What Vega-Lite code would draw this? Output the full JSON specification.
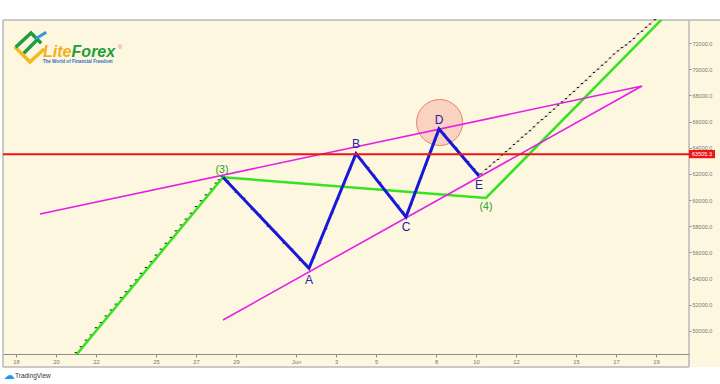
{
  "$schema": "https://vega.github.io/schema/vega-lite/v6.json",
  "width": 686,
  "height": 334,
  "autosize": {"type": "none"},
  "padding": {"left": 3, "top": 20, "right": 31, "bottom": 30},
  "background": "#ffffff",
  "config": {"view": {"stroke": null}},
  "datasets": {
    "bg": [{"day": 17.35, "day2": 53.2, "price": 47249, "price2": 73757}],
    "frame": [
      {"day": 17.35, "day2": 53.2, "price": 73757, "price2": 73757},
      {"day": 17.35, "day2": 51.65, "price": 47249, "price2": 47249},
      {"day": 17.35, "day2": 17.35, "price": 47249, "price2": 73757},
      {"day": 51.65, "day2": 51.65, "price": 47249, "price2": 73757}
    ],
    "lines": [
      {"name": "green", "i": 1, "day": 20.72, "price": 47631},
      {"name": "green", "i": 2, "day": 28.35, "price": 61750},
      {"name": "green", "i": 3, "day": 41.5, "price": 60160},
      {"name": "green", "i": 4, "day": 50.7, "price": 74444},
      {"name": "magenta", "i": 1, "day": 19.2, "price": 58937},
      {"name": "magenta", "i": 2, "day": 49.3, "price": 68715},
      {"name": "magenta", "i": 3, "day": 28.35, "price": 50840},
      {"name": "blue", "i": 1, "day": 28.35, "price": 61750},
      {"name": "blue", "i": 2, "day": 32.65, "price": 54800},
      {"name": "blue", "i": 3, "day": 35.0, "price": 63550},
      {"name": "blue", "i": 4, "day": 37.5, "price": 58708},
      {"name": "blue", "i": 5, "day": 39.15, "price": 65430},
      {"name": "blue", "i": 6, "day": 41.15, "price": 61840}
    ],
    "dots": [
      {"day": 21.0, "price": 48350}, {"day": 21.25, "price": 48800}, {"day": 21.5, "price": 49300},
      {"day": 21.75, "price": 49700}, {"day": 22.0, "price": 50250}, {"day": 22.25, "price": 50650},
      {"day": 22.5, "price": 51150}, {"day": 22.75, "price": 51600}, {"day": 23.0, "price": 52050},
      {"day": 23.25, "price": 52550}, {"day": 23.5, "price": 53000}, {"day": 23.75, "price": 53450},
      {"day": 24.0, "price": 53900}, {"day": 24.25, "price": 54400}, {"day": 24.5, "price": 54850},
      {"day": 24.75, "price": 55300}, {"day": 25.0, "price": 55800}, {"day": 25.25, "price": 56250},
      {"day": 25.5, "price": 56700}, {"day": 25.75, "price": 57150}, {"day": 26.0, "price": 57650},
      {"day": 26.25, "price": 58100}, {"day": 26.5, "price": 58550}, {"day": 26.75, "price": 59000},
      {"day": 27.0, "price": 59500}, {"day": 27.25, "price": 59950}, {"day": 27.5, "price": 60400},
      {"day": 27.75, "price": 60850}, {"day": 28.0, "price": 61300}, {"day": 28.15, "price": 61550},
      {"day": 28.3, "price": 61800},
      {"day": 28.6, "price": 61450}, {"day": 29.0, "price": 60600}, {"day": 29.4, "price": 60150},
      {"day": 29.8, "price": 59300}, {"day": 30.2, "price": 58850}, {"day": 30.6, "price": 58000},
      {"day": 31.0, "price": 57550}, {"day": 31.4, "price": 56700}, {"day": 31.8, "price": 56250},
      {"day": 32.2, "price": 55400}, {"day": 32.5, "price": 55100},
      {"day": 32.9, "price": 55600}, {"day": 33.2, "price": 56700}, {"day": 33.5, "price": 57800},
      {"day": 33.8, "price": 59000}, {"day": 34.1, "price": 60100}, {"day": 34.4, "price": 61250},
      {"day": 34.7, "price": 62350}, {"day": 34.95, "price": 63400},
      {"day": 35.3, "price": 63050}, {"day": 35.6, "price": 62500}, {"day": 35.9, "price": 61900},
      {"day": 36.2, "price": 61350}, {"day": 36.5, "price": 60750}, {"day": 36.8, "price": 60150},
      {"day": 37.1, "price": 59600}, {"day": 37.35, "price": 59100},
      {"day": 37.75, "price": 59650}, {"day": 38.0, "price": 60650}, {"day": 38.25, "price": 61700},
      {"day": 38.5, "price": 62700}, {"day": 38.75, "price": 63750}, {"day": 38.95, "price": 64600},
      {"day": 39.05, "price": 65000},
      {"day": 39.4, "price": 65050}, {"day": 39.7, "price": 64500}, {"day": 40.0, "price": 64000},
      {"day": 40.3, "price": 63450}, {"day": 40.6, "price": 62950}, {"day": 40.9, "price": 62400},
      {"day": 41.1, "price": 62050}
    ],
    "proj": [
      {"day": 41.25, "price": 62000}, {"day": 41.5, "price": 62350}, {"day": 41.7, "price": 62600},
      {"day": 41.9, "price": 62900}, {"day": 42.1, "price": 63100}, {"day": 42.3, "price": 63450},
      {"day": 42.5, "price": 63700}, {"day": 42.7, "price": 63950}, {"day": 42.9, "price": 64250},
      {"day": 43.1, "price": 64500}, {"day": 43.3, "price": 64800}, {"day": 43.5, "price": 65050},
      {"day": 43.7, "price": 65300}, {"day": 43.9, "price": 65600}, {"day": 44.1, "price": 65900},
      {"day": 44.3, "price": 66150}, {"day": 44.5, "price": 66400}, {"day": 44.7, "price": 66700},
      {"day": 44.9, "price": 66950}, {"day": 45.1, "price": 67250}, {"day": 45.3, "price": 67500},
      {"day": 45.5, "price": 67750}, {"day": 45.7, "price": 68050}, {"day": 45.9, "price": 68300},
      {"day": 46.1, "price": 68600}, {"day": 46.3, "price": 68900}, {"day": 46.5, "price": 69150},
      {"day": 46.7, "price": 69450}, {"day": 46.9, "price": 69750}, {"day": 47.1, "price": 70000},
      {"day": 47.3, "price": 70300}, {"day": 47.5, "price": 70550}, {"day": 47.7, "price": 70850},
      {"day": 47.9, "price": 71150}, {"day": 48.1, "price": 71400}, {"day": 48.3, "price": 71650},
      {"day": 48.5, "price": 71850}, {"day": 48.7, "price": 72100}, {"day": 48.9, "price": 72350},
      {"day": 49.1, "price": 72700}, {"day": 49.3, "price": 72900}, {"day": 49.5, "price": 73200},
      {"day": 49.7, "price": 73450}, {"day": 49.95, "price": 73780}
    ],
    "labels": [
      {"kind": "wave", "text": "(3)", "day": 28.3, "price": 62298},
      {"kind": "wave", "text": "(4)", "day": 41.5, "price": 59472},
      {"kind": "abc", "text": "A", "day": 32.65, "price": 53896},
      {"kind": "abc", "text": "B", "day": 35.0, "price": 64285},
      {"kind": "abc", "text": "C", "day": 37.5, "price": 57944},
      {"kind": "abc", "text": "D", "day": 39.15, "price": 66118},
      {"kind": "abc", "text": "E", "day": 41.15, "price": 61152}
    ],
    "circle": [{"day": 39.18, "price": 65927}],
    "level": [{"day": 17.35, "day2": 51.65, "price": 63505.3, "price2": 63505.3}],
    "levelbox": [{"day": 51.65, "day2": 52.95, "price": 63200, "price2": 63826}],
    "leveltext": [{"day": 52.3, "price": 63505.3, "text": "63505.3"}],
    "logo": [
      {"name": "green", "i": 1, "day": 18.05, "price": 71771},
      {"name": "green", "i": 2, "day": 18.75, "price": 72764},
      {"name": "green", "i": 3, "day": 19.2, "price": 72076},
      {"name": "green2", "i": 1, "day": 18.45, "price": 71312},
      {"name": "green2", "i": 2, "day": 19.0, "price": 72153},
      {"name": "yellow", "i": 1, "day": 18.0, "price": 71618},
      {"name": "yellow", "i": 2, "day": 18.7, "price": 70549},
      {"name": "yellow", "i": 3, "day": 19.35, "price": 71465},
      {"name": "blue", "i": 1, "day": 19.05, "price": 72382},
      {"name": "blue", "i": 2, "day": 19.45, "price": 72764}
    ],
    "logotext": [
      {"kind": "lite", "text": "Lite", "day": 19.35, "price": 70931},
      {"kind": "forex", "text": "Forex", "day": 20.78, "price": 70931},
      {"kind": "reg", "text": "®", "day": 23.2, "price": 71694},
      {"kind": "tag", "text": "The World of Financial Freedom", "day": 21.08, "price": 70549},
      {"kind": "cloud", "text": "☁", "day": 17.65, "price": 46600},
      {"kind": "tv", "text": "TradingView", "day": 17.95, "price": 46562}
    ]
  },
  "encoding": {
    "x": {
      "field": "day", "type": "quantitative",
      "scale": {"domain": [17.35, 51.65], "nice": false, "zero": false},
      "axis": {
        "values": [18, 20, 22, 25, 27, 29, 32, 34, 36, 39, 41, 43, 46, 48, 50],
        "labelExpr": "datum.value == 32 ? 'Jun' : (datum.value > 31 ? '' + (datum.value - 31) : '' + datum.value)",
        "title": null, "grid": false, "domainColor": "#8c8c8c", "tickColor": "#8c8c8c",
        "tickSize": 3, "labelFontSize": 5.8, "labelColor": "#777777", "labelPadding": 1,
        "labelFont": "Liberation Sans", "labelOverlap": false, "zindex": 1
      }
    },
    "y": {
      "field": "price", "type": "quantitative",
      "scale": {"domain": [48243, 73757], "nice": false, "zero": false},
      "axis": {
        "orient": "right",
        "values": [50000, 52000, 54000, 56000, 58000, 60000, 62000, 64000, 66000, 68000, 70000, 72000],
        "format": ".1f", "title": null, "grid": false, "domain": false,
        "tickColor": "#8c8c8c", "tickSize": 2, "labelFontSize": 5.5, "labelColor": "#777777",
        "labelPadding": 1, "labelFont": "Liberation Sans", "labelOverlap": false, "zindex": 1
      }
    }
  },
  "layer": [
    {
      "data": {"name": "bg"},
      "mark": {"type": "rect", "color": "#FDF7E0", "clip": false},
      "encoding": {"x2": {"field": "day2"}, "y2": {"field": "price2"}}
    },
    {
      "data": {"name": "frame"},
      "mark": {"type": "rule", "color": "#b8b8b8", "strokeWidth": 1.5, "clip": false},
      "encoding": {"x2": {"field": "day2"}, "y2": {"field": "price2"}}
    },
    {
      "data": {"name": "circle"},
      "mark": {"type": "point", "shape": "circle", "size": 2116, "filled": true, "fill": "#F9D3BF", "stroke": "#E5806C", "strokeWidth": 1, "opacity": 1}
    },
    {
      "data": {"name": "dots"},
      "mark": {"type": "tick", "orient": "horizontal", "size": 2.6, "thickness": 1.1, "color": "#1e1e1e", "opacity": 1}
    },
    {
      "data": {"name": "lines"},
      "transform": [{"filter": "datum.name == 'green'"}],
      "mark": {"type": "line", "color": "#33E41F", "strokeWidth": 2.5, "clip": true},
      "encoding": {"order": {"field": "i"}}
    },
    {
      "data": {"name": "lines"},
      "transform": [{"filter": "datum.name == 'magenta'"}],
      "mark": {"type": "line", "color": "#E61EE6", "strokeWidth": 1.6, "clip": true},
      "encoding": {"order": {"field": "i"}}
    },
    {
      "data": {"name": "lines"},
      "transform": [{"filter": "datum.name == 'blue'"}],
      "mark": {"type": "line", "color": "#1818DC", "strokeWidth": 3, "clip": true},
      "encoding": {"order": {"field": "i"}}
    },
    {
      "data": {"name": "level"},
      "mark": {"type": "rule", "color": "#F01515", "strokeWidth": 2},
      "encoding": {"x2": {"field": "day2"}, "y2": {"field": "price2"}}
    },
    {
      "data": {"name": "proj"},
      "mark": {"type": "line", "color": "#9a9a9a", "strokeWidth": 0.6, "clip": true},
      "encoding": {"order": {"field": "day"}}
    },
    {
      "data": {"name": "proj"},
      "mark": {"type": "tick", "orient": "horizontal", "size": 2.4, "thickness": 1.1, "color": "#1e1e1e", "opacity": 1}
    },
    {
      "data": {"name": "logo"},
      "transform": [{"filter": "datum.name == 'yellow'"}],
      "mark": {"type": "line", "color": "#F5B921", "strokeWidth": 3.5, "strokeCap": "square"},
      "encoding": {"order": {"field": "i"}}
    },
    {
      "data": {"name": "logo"},
      "transform": [{"filter": "datum.name == 'green' || datum.name == 'green2'"}],
      "mark": {"type": "line", "color": "#1E9E3C", "strokeWidth": 3.5, "strokeCap": "square"},
      "encoding": {"order": {"field": "i"}, "detail": {"field": "name"}}
    },
    {
      "data": {"name": "logo"},
      "transform": [{"filter": "datum.name == 'blue'"}],
      "mark": {"type": "line", "color": "#2E9BE0", "strokeWidth": 3, "strokeCap": "square"},
      "encoding": {"order": {"field": "i"}}
    },
    {
      "data": {"name": "logotext"},
      "transform": [{"filter": "datum.kind == 'lite'"}],
      "mark": {"type": "text", "align": "left", "baseline": "alphabetic", "font": "Liberation Sans", "fontSize": 16, "fontWeight": "bold", "fontStyle": "italic", "color": "#F2B01E"},
      "encoding": {"text": {"field": "text"}}
    },
    {
      "data": {"name": "logotext"},
      "transform": [{"filter": "datum.kind == 'forex'"}],
      "mark": {"type": "text", "align": "left", "baseline": "alphabetic", "font": "Liberation Sans", "fontSize": 16, "fontWeight": "bold", "fontStyle": "italic", "color": "#1E9E3C"},
      "encoding": {"text": {"field": "text"}}
    },
    {
      "data": {"name": "logotext"},
      "transform": [{"filter": "datum.kind == 'reg'"}],
      "mark": {"type": "text", "align": "center", "baseline": "middle", "font": "Liberation Sans", "fontSize": 6, "color": "#E0707A"},
      "encoding": {"text": {"field": "text"}}
    },
    {
      "data": {"name": "logotext"},
      "transform": [{"filter": "datum.kind == 'tag'"}],
      "mark": {"type": "text", "align": "center", "baseline": "middle", "font": "Liberation Sans", "fontSize": 4.6, "fontWeight": "bold", "color": "#2C6FC2"},
      "encoding": {"text": {"field": "text"}}
    },
    {
      "data": {"name": "logotext"},
      "transform": [{"filter": "datum.kind == 'cloud'"}],
      "mark": {"type": "text", "align": "center", "baseline": "middle", "font": "DejaVu Sans", "fontSize": 11, "color": "#2196F3", "clip": false},
      "encoding": {"text": {"field": "text"}}
    },
    {
      "data": {"name": "logotext"},
      "transform": [{"filter": "datum.kind == 'tv'"}],
      "mark": {"type": "text", "align": "left", "baseline": "middle", "font": "Liberation Sans", "fontSize": 6.5, "color": "#333333", "clip": false},
      "encoding": {"text": {"field": "text"}}
    },
    {
      "data": {"name": "labels"},
      "transform": [{"filter": "datum.kind == 'abc'"}],
      "mark": {"type": "text", "align": "center", "baseline": "middle", "font": "Liberation Sans", "fontSize": 12, "color": "#2323A8"},
      "encoding": {"text": {"field": "text"}}
    },
    {
      "data": {"name": "labels"},
      "transform": [{"filter": "datum.kind == 'wave'"}],
      "mark": {"type": "text", "align": "center", "baseline": "middle", "font": "Liberation Sans", "fontSize": 10.5, "color": "#18A018"},
      "encoding": {"text": {"field": "text"}}
    },
    {
      "data": {"name": "levelbox"},
      "mark": {"type": "rect", "color": "#F01515", "clip": false},
      "encoding": {"x2": {"field": "day2"}, "y2": {"field": "price2"}}
    },
    {
      "data": {"name": "leveltext"},
      "mark": {"type": "text", "align": "center", "baseline": "middle", "font": "Liberation Sans", "fontSize": 5.5, "color": "#ffffff", "clip": false},
      "encoding": {"text": {"field": "text"}}
    }
  ]
}
